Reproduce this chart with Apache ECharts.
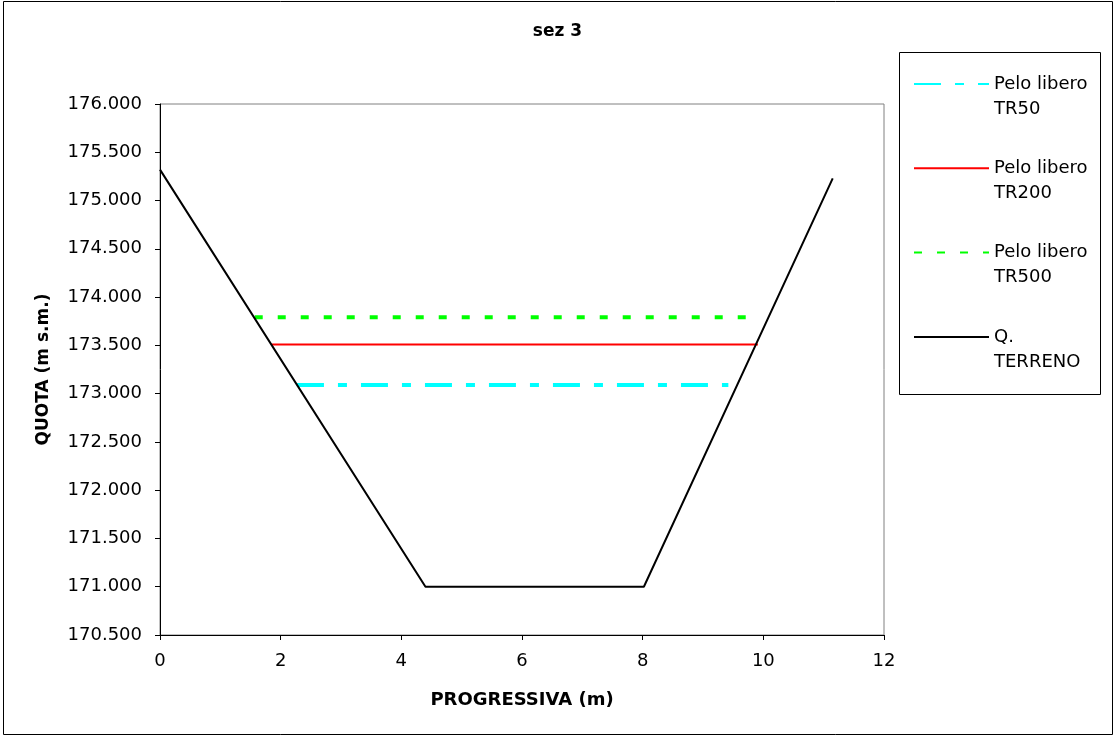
<!DOCTYPE html>
<html>
<head>
<meta charset="utf-8">
<script src="https://cdn.jsdelivr.net/npm/echarts@6/dist/echarts.min.js"></script>
<style>
html,body{margin:0;padding:0;background:#fff;}
#c{width:1115px;height:737px;}
</style>
</head>
<body>
<div id="c"></div>
<script>
// Data
const terrenoX = [0, 4.4, 8.02, 11.15];
const terrenoY = [175.32, 171.0, 171.0, 175.23];
const tr50X = [2.27, 9.42];
const tr50Y = [173.09, 173.09];
const tr200X = [1.85, 9.91];
const tr200Y = [173.51, 173.51];
const tr500X = [1.57, 9.95];
const tr500Y = [173.79, 173.79];
const seriesNames = ['Pelo libero\nTR50', 'Pelo libero\nTR200', 'Pelo libero\nTR500', 'Q.\nTERRENO'];

function pairs(xs, ys) { return xs.map((x, i) => [x, ys[i]]); }

const FONT = 'DejaVu Sans';
const chart = echarts.init(document.getElementById('c'));
chart.setOption({
  animation: false,
  backgroundColor: '#fff',
  title: {
    text: 'sez 3',
    left: 'center',
    top: 18,
    textStyle: { fontFamily: FONT, fontSize: 17, fontWeight: 'bold', color: '#000' }
  },
  graphic: [
    { type: 'rect', shape: { x: 3.5, y: 1.5, width: 1109, height: 733 }, style: { fill: 'none', stroke: '#000', lineWidth: 1 }, silent: true },
    { type: 'rect', shape: { x: 899.5, y: 52.5, width: 201, height: 342 }, style: { fill: 'none', stroke: '#000', lineWidth: 1 }, silent: true }
  ],
  legend: {
    left: 913,
    top: 50,
    orient: 'vertical',
    itemWidth: 75,
    itemHeight: 14,
    itemGap: 16.3,
    padding: 0,
    data: seriesNames,
    itemStyle: { opacity: 0 },
    formatter: function (name) {
      const parts = name.split('\n');
      return '{b| }\n{a|' + parts[0] + '}\n{a|' + parts[1] + '}';
    },
    textStyle: {
      fontFamily: FONT,
      fontSize: 18,
      color: '#000',
      rich: {
        a: { fontFamily: FONT, fontSize: 18, lineHeight: 25, color: '#000' },
        b: { fontSize: 18, lineHeight: 25 }
      }
    }
  },
  grid: {
    left: 160,
    right: 231,
    top: 104,
    bottom: 102,
    show: true,
    borderColor: '#808080',
    borderWidth: 1,
    backgroundColor: '#fff'
  },
  xAxis: {
    type: 'value',
    min: 0,
    max: 12,
    interval: 2,
    name: 'PROGRESSIVA (m)',
    nameLocation: 'middle',
    nameGap: 56,
    nameTextStyle: { fontFamily: FONT, fontSize: 18, fontWeight: 'bold', color: '#000' },
    axisLine: { show: true, onZero: false, lineStyle: { color: '#000', width: 1 } },
    axisTick: { show: true, inside: false, length: 5, lineStyle: { color: '#000' } },
    axisLabel: { fontFamily: FONT, fontSize: 18, color: '#000', margin: 17 },
    splitLine: { show: false }
  },
  yAxis: {
    type: 'value',
    min: 170.5,
    max: 176,
    interval: 0.5,
    name: 'QUOTA (m s.m.)',
    nameLocation: 'middle',
    nameGap: 108,
    nameTextStyle: { fontFamily: FONT, fontSize: 17, fontWeight: 'bold', color: '#000' },
    axisLine: { show: true, onZero: false, lineStyle: { color: '#000', width: 1 } },
    axisTick: { show: true, inside: false, length: 5, lineStyle: { color: '#000' } },
    axisLabel: { fontFamily: FONT, fontSize: 18, color: '#000', margin: 18, formatter: v => v.toFixed(3) },
    splitLine: { show: false }
  },
  series: [
    {
      name: seriesNames[0], type: 'line', symbol: 'none',
      data: pairs(tr50X, tr50Y),
      lineStyle: { color: '#00FFFF', width: 4, type: [27, 14, 9, 14], cap: 'butt' },
      itemStyle: { color: '#00FFFF' }
    },
    {
      name: seriesNames[1], type: 'line', symbol: 'none',
      data: pairs(tr200X, tr200Y),
      lineStyle: { color: '#FF0000', width: 2, type: 'solid' },
      itemStyle: { color: '#FF0000' }
    },
    {
      name: seriesNames[2], type: 'line', symbol: 'none',
      data: pairs(tr500X, tr500Y),
      lineStyle: { color: '#00FF00', width: 4, type: [8, 15], cap: 'butt' },
      itemStyle: { color: '#00FF00' }
    },
    {
      name: seriesNames[3], type: 'line', symbol: 'none',
      data: pairs(terrenoX, terrenoY),
      lineStyle: { color: '#000000', width: 2, type: 'solid' },
      itemStyle: { color: '#000000' }
    }
  ]
});
</script>
</body>
</html>
